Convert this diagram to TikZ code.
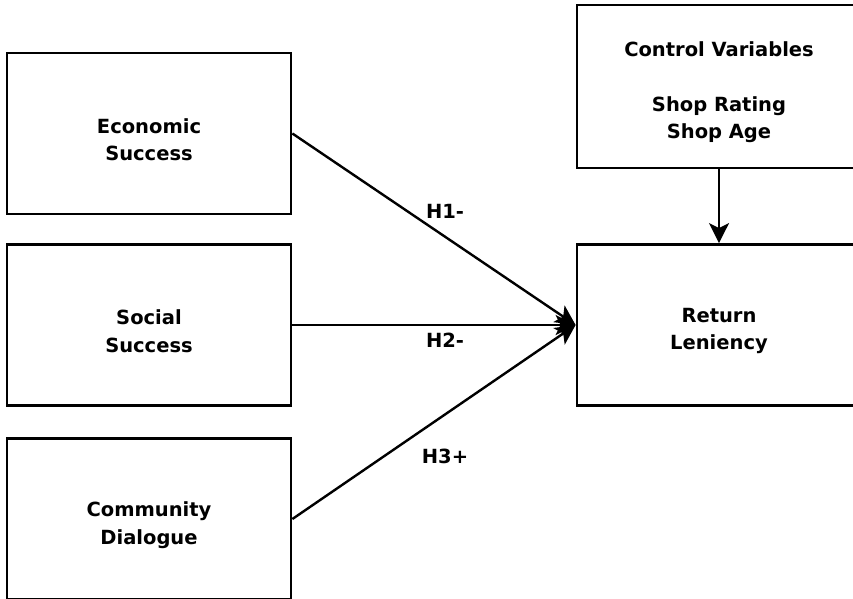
\documentclass[tikz,border=0pt]{standalone}
\usepackage{fontspec}
\setmainfont{DejaVu Sans}
\usetikzlibrary{arrows.meta}
\begin{document}
\begin{tikzpicture}[x=1pt,y=-1pt,
  box/.style={draw=black, line width=2.8pt, fill=white, minimum width=284pt, minimum height=161pt, inner sep=0pt},
  txt/.style={inner sep=0pt, align=center, yshift=-6pt, font=\fontsize{19.5}{27.5}\selectfont\bfseries},
  conn/.style={draw=black, line width=2.4pt, -{Stealth[length=20pt,width=20pt,inset=5pt]}},
  lbl/.style={font=\fontsize{19.5}{23}\selectfont\bfseries, inner sep=0pt}]
\useasboundingbox[fill=white] (0,0) rectangle (853,598);
\node[box] (econ) at (149,133.5) {};
\node[box] (social) at (149,325) {};
\node[box] (comm) at (149,519) {};
\node[box, minimum height=163pt] (ctrl) at (719,86.5) {};
\node[box] (ret) at (719,325) {};
\node[txt] (econT) at (econ.center) {Economic\\Success};
\node[txt] (socialT) at (social.center) {Social\\Success};
\node[txt] (commT) at (comm.center) {Community\\Dialogue};
\node[txt] (ctrlT) at (ctrl.center) {Control Variables\\[27pt]Shop Rating\\Shop Age};
\node[txt] (retT) at (ret.center) {Return\\Leniency};
\draw[conn] (econ.east) -- (ret.west);
\draw[conn] (social.east) -- (ret.west);
\draw[conn] (comm.east) -- (ret.west);
\draw[conn] (ctrl.south) -- (ret.north);
\node[lbl] (h1) at (445,211) {H1-};
\node[lbl] (h2) at (445,340) {H2-};
\node[lbl] (h3) at (445,456) {H3+};
\end{tikzpicture}
\end{document}
